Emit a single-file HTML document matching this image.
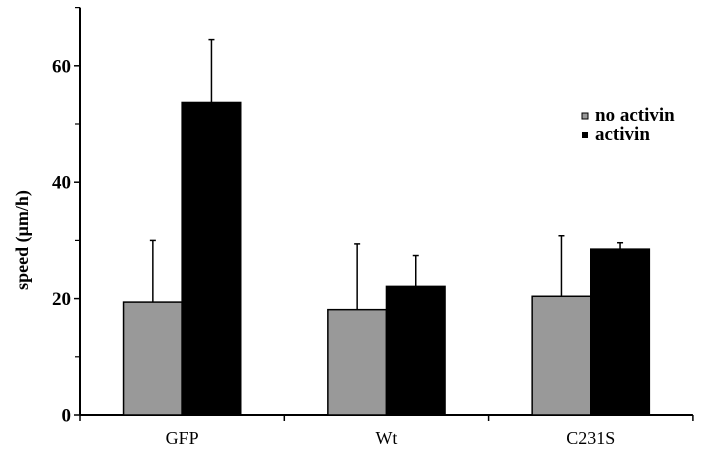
<!DOCTYPE html>
<html><head><meta charset="utf-8"><style>
body{margin:0;background:#fff;}
svg{display:block;font-family:"Liberation Serif",serif;}
</style></head><body>
<svg id="chart" width="701" height="458" viewBox="0 0 701 458"></svg>
<script>
const categories = ["GFP", "Wt", "C231S"];
const noActivin = [19.4, 18.1, 20.4];
const noActivinErr = [10.6, 11.3, 10.4];
const activin = [53.7, 22.1, 28.5];
const activinErr = [10.8, 5.3, 1.1];
const yTickLabels = [0, 20, 40, 60];
const yMinorTicks = [10, 30, 50, 70];

const NS = "http://www.w3.org/2000/svg";
const svg = document.getElementById("chart");
const x0 = 80, y0 = 415, pxPerUnit = 5.82, catW = 204.3, barW = 58.6, yMax = 70;
const y = v => y0 - v * pxPerUnit;
const catX = i => x0 + i * catW;
function mk(tag, attrs, parent) {
  const e = document.createElementNS(NS, tag);
  for (const k in attrs) e.setAttribute(k, attrs[k]);
  (parent || svg).appendChild(e);
  return e;
}
// axes
let g = mk("g", {});


mk("line", {x1: x0, y1: y(yMax), x2: x0, y2: y0 + 0.5, stroke: "#000", "stroke-width": 2}, g);
yTickLabels.forEach(v => {
  mk("line", {x1: x0 - 6, y1: y(v), x2: x0, y2: y(v), stroke: "#000", "stroke-width": 1.5}, g);
  const t = mk("text", {x: x0 - 9, y: y(v) + 6.5, "text-anchor": "end", "font-size": 19, "font-weight": "bold"}, g);
  
  
  t.textContent = v;
});
yMinorTicks.forEach(v => {
  mk("line", {x1: x0 - 5, y1: y(v), x2: x0, y2: y(v), stroke: "#000", "stroke-width": 1.2}, g);
});
const yt = mk("text", {x: 0, y: 0, transform: "translate(28,240) rotate(-90)", "text-anchor": "middle", "font-size": 18, "font-weight": "bold"});


yt.textContent = "speed (\u03bcm/h)";

g = mk("g", {});


mk("line", {x1: x0, y1: y0, x2: catX(categories.length), y2: y0, stroke: "#000", "stroke-width": 2}, g);
for (let i = 0; i <= categories.length; i++) {
  mk("line", {x1: catX(i), y1: y0, x2: catX(i), y2: y0 + 6, stroke: "#000", "stroke-width": 1.5}, g);
}
categories.forEach((c, i) => {
  const t = mk("text", {x: catX(i) + catW / 2, y: 444, "text-anchor": "middle", "font-size": 18}, g);
  
  
  t.textContent = c;
});

// bars
function drawBar(i, v, err, offset, fill, name) {
  const bx = catX(i) + catW / 2 + offset;
  const ey = y(v + err);
  const el = mk("line", {x1: bx + barW / 2, y1: ey, x2: bx + barW / 2, y2: y(v), stroke: "#000", "stroke-width": 1.5});
  
  
  mk("line", {x1: bx + barW / 2 - 3, y1: ey, x2: bx + barW / 2 + 3, y2: ey, stroke: "#000", "stroke-width": 1.5});
  const r = mk("rect", {x: bx, y: y(v), width: barW, height: y0 - y(v), fill: fill, stroke: "#000", "stroke-width": 1.5});
  
  
}
categories.forEach((c, i) => {
  drawBar(i, noActivin[i], noActivinErr[i], -barW, "#999", "bar-no-activin");
  drawBar(i, activin[i], activinErr[i], 0, "#000", "bar-activin");
});

// legend
g = mk("g", {});


mk("rect", {x: 582, y: 113, width: 6, height: 6, fill: "#999", stroke: "#000", "stroke-width": 1}, g);
mk("rect", {x: 582, y: 132, width: 6, height: 6, fill: "#000"}, g);
let lt = mk("text", {x: 595, y: 121, "font-size": 19, "font-weight": "bold"}, g);


lt.textContent = "no activin";
lt = mk("text", {x: 595, y: 140, "font-size": 19, "font-weight": "bold"}, g);


lt.textContent = "activin";
</script>
</body></html>
